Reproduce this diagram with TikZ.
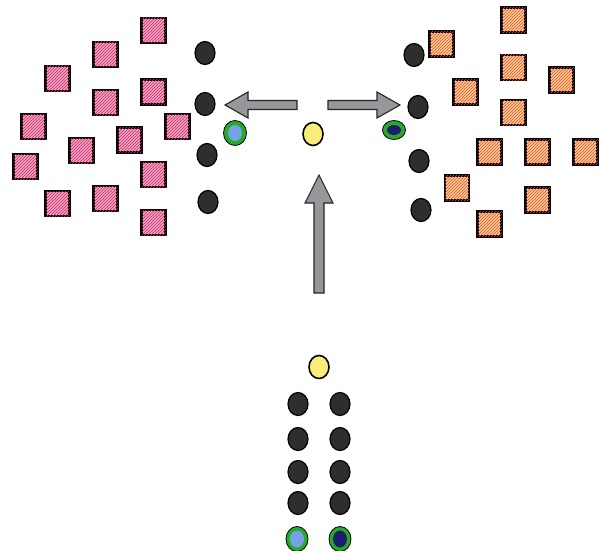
\documentclass[tikz,border=0pt]{standalone}
\usetikzlibrary{patterns,shapes.geometric}
\definecolor{pinkfill}{RGB}{240,165,198}
\definecolor{pinkline}{RGB}{200,40,100}
\definecolor{orangefill}{RGB}{248,200,140}
\definecolor{orangeline}{RGB}{220,90,60}
\definecolor{dotdark}{RGB}{48,46,44}
\definecolor{yelfill}{RGB}{250,236,120}
\definecolor{ringgreen}{RGB}{40,170,40}
\definecolor{lightblue}{RGB}{120,160,230}
\definecolor{navyfill}{RGB}{30,30,110}
\definecolor{arrowgray}{RGB}{150,150,155}
\tikzset{
  sqpink/.style={draw=black, line width=2.4pt, fill=pinkfill, postaction={pattern=north east lines, pattern color=pinkline}, minimum width=24pt, minimum height=25pt, inner sep=0pt},
  sqorange/.style={draw=black, line width=2.4pt, fill=orangefill, postaction={pattern=north east lines, pattern color=orangeline}, minimum width=24pt, minimum height=25pt, inner sep=0pt},
  player/.style={ellipse, draw=black, line width=1.2pt, fill=dotdark, minimum width=20pt, minimum height=23pt, inner sep=0pt},
  ball/.style={ellipse, draw=black, line width=1.6pt, fill=yelfill, minimum width=20pt, minimum height=23pt, inner sep=0pt},
  keeperring/.style={ellipse, draw=black, line width=0.8pt, fill=ringgreen, inner sep=0pt},
  keepercoreA/.style={ellipse, fill=lightblue, inner sep=0pt},
  keepercoreB/.style={ellipse, fill=navyfill, inner sep=0pt},
  bigarrow/.style={draw=black!85, line width=1.1pt, fill=arrowgray, line join=miter},
}
\begin{document}
\begin{tikzpicture}[x=1pt, y=-1pt]
\useasboundingbox (0,0) rectangle (602,551);
% left squares (pink)
\node[sqpink] (l1) at (153.5,30.5) {};
\node[sqpink] (l2) at (105.5,54.5) {};
\node[sqpink] (l3) at (57.5,78.5) {};
\node[sqpink] (l4) at (105.5,102.5) {};
\node[sqpink] (l5) at (153.5,92) {};
\node[sqpink] (l6) at (33.5,126.5) {};
\node[sqpink] (l7) at (177.5,126.5) {};
\node[sqpink] (l8) at (129.5,140) {};
\node[sqpink] (l9) at (81.5,150.5) {};
\node[sqpink] (l10) at (25.5,166.5) {};
\node[sqpink] (l11) at (153.5,174.5) {};
\node[sqpink] (l12) at (57.5,203.5) {};
\node[sqpink] (l13) at (105.5,198.5) {};
\node[sqpink] (l14) at (153.5,222.5) {};
% right squares (orange)
\node[sqorange] (r1) at (513.5,20) {};
\node[sqorange] (r2) at (441.5,44) {};
\node[sqorange] (r3) at (513.5,67.5) {};
\node[sqorange] (r4) at (561.5,80) {};
\node[sqorange] (r5) at (465.5,92) {};
\node[sqorange] (r6) at (513.5,112.5) {};
\node[sqorange] (r7) at (489.5,152) {};
\node[sqorange] (r8) at (537.5,152) {};
\node[sqorange] (r9) at (585.5,152) {};
\node[sqorange] (r10) at (457,188) {};
\node[sqorange] (r11) at (537.5,200) {};
\node[sqorange] (r12) at (489.5,224) {};
% left dark circles
\node[player] (lp1) at (205,53) {};
\node[player] (lp2) at (205,104) {};
\node[player] (lp3) at (207,155) {};
\node[player] (lp4) at (208,202) {};
% right dark circles
\node[player] (rp1) at (414,55) {};
\node[player] (rp2) at (418,107) {};
\node[player] (rp3) at (419,161) {};
\node[player] (rp4) at (421,210) {};
% keepers and ball at top
\node[keeperring, minimum width=23pt, minimum height=25pt] (lk) at (235,133) {};
\node[keepercoreA, minimum width=14pt, minimum height=16pt] (lkc) at (lk.center) {};
\node[keeperring, minimum width=23pt, minimum height=19pt] (rk) at (394,130) {};
\node[keepercoreB, minimum width=14pt, minimum height=10pt] (rkc) at (rk.center) {};
\node[ball] (tb) at (313,134) {};
% arrows
\draw[bigarrow] (225,105) -- (248,92) -- (248,100.5) -- (297,100.5) -- (297,109.5) -- (248,109.5) -- (248,118) -- cycle;
\draw[bigarrow] (400,105) -- (377,92) -- (377,100.5) -- (328,100.5) -- (328,109.5) -- (377,109.5) -- (377,118) -- cycle;
\draw[bigarrow] (319,175) -- (333,203) -- (324,203) -- (324,293) -- (314,293) -- (314,203) -- (305,203) -- cycle;
% bottom group
\node[ball] (bb) at (319,367) {};
\node[player] (b1) at (298,404) {};
\node[player] (b2) at (340,404) {};
\node[player] (b3) at (298,439) {};
\node[player] (b4) at (340,439) {};
\node[player] (b5) at (298,472) {};
\node[player] (b6) at (340,472) {};
\node[player] (b7) at (298,503) {};
\node[player] (b8) at (340,503) {};
\node[keeperring, minimum width=22pt, minimum height=25pt] (bk1) at (297,539) {};
\node[keepercoreA, minimum width=14pt, minimum height=17pt] (bk1c) at (bk1.center) {};
\node[keeperring, minimum width=22pt, minimum height=25pt] (bk2) at (340,539) {};
\node[keepercoreB, minimum width=14pt, minimum height=17pt] (bk2c) at (bk2.center) {};
\end{tikzpicture}
\end{document}
